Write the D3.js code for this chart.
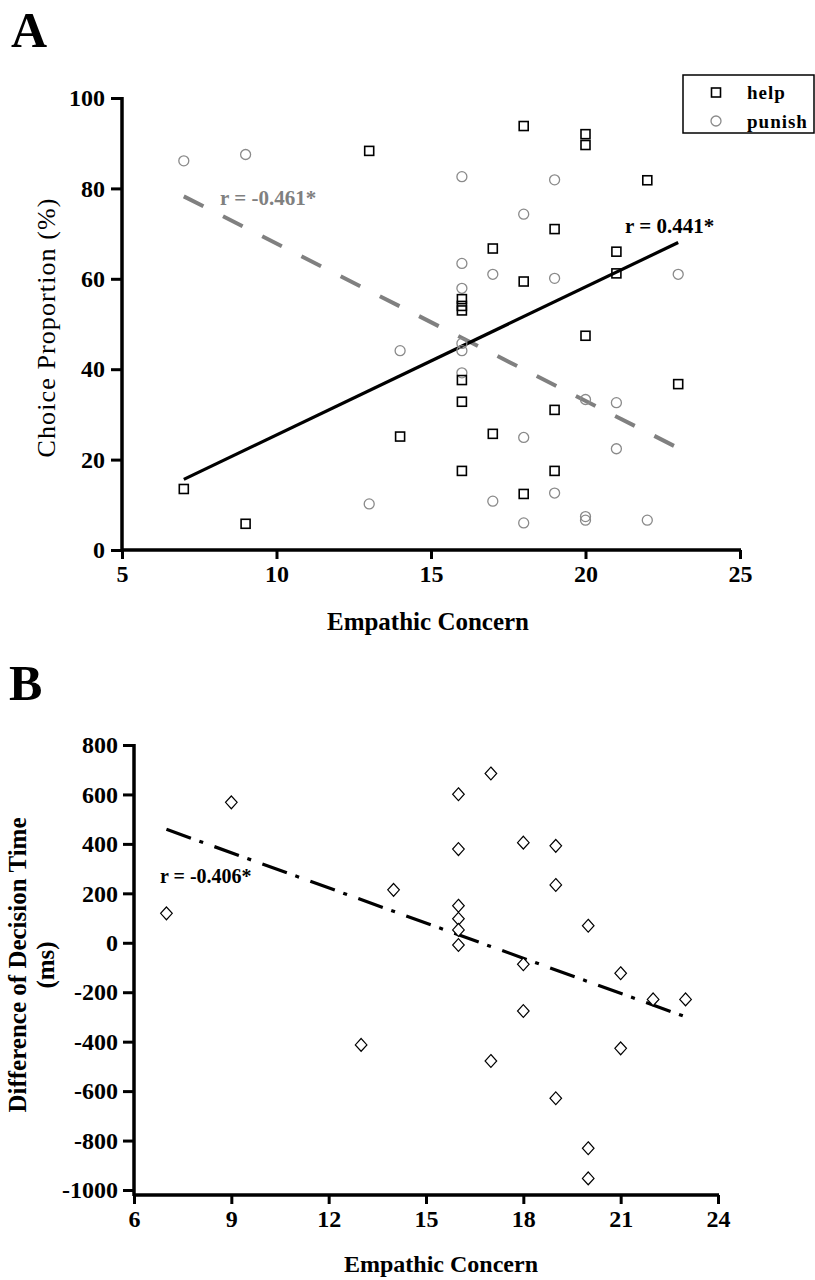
<!DOCTYPE html>
<html>
<head>
  <meta charset="utf-8">
  <style type="text/css">
	body { margin: 0; background: #fff; }
	text { font-family: "Liberation Serif", "Times New Roman", serif; }
	.tick text { font-weight: bold; font-size: 24px; fill: #000; }
	.tick line { stroke: #000; stroke-width: 3; }
	.domain { display: none; }
  </style>
</head>
<body>
<svg width="815" height="1280"></svg>
<script src="https://d3js.org/d3.v7.min.js"></script>
<script>
	// panel A : choice proportion vs empathic concern
	var helpEC    = [7, 9, 13, 14, 16, 16, 16, 16, 16, 16, 17, 17, 18, 18, 18, 19, 19, 19, 20, 20, 20, 21, 21, 22, 23];
	var helpPct   = [13.5, 5.8, 88.3, 25.1, 55.5, 54, 53, 37.6, 32.8, 17.5, 66.7, 25.7, 93.8, 59.4, 12.4, 71.0, 31.0, 17.5, 92.0, 89.6, 47.4, 66.0, 61.2, 81.8, 36.7];
	var punishEC  = [7, 9, 13, 14, 16, 16, 16, 16, 16, 16, 17, 17, 18, 18, 18, 19, 19, 19, 20, 20, 20, 21, 21, 22, 23];
	var punishPct = [86.1, 87.5, 10.2, 44.1, 82.6, 63.4, 57.9, 45.7, 44.1, 39.2, 61.0, 10.8, 74.3, 24.9, 6.0, 81.9, 60.1, 12.6, 33.3, 7.4, 6.6, 32.6, 22.4, 6.6, 61.0];
	var xTicksA = [5, 10, 15, 20, 25];
	var yTicksA = [0, 20, 40, 60, 80, 100];

	// panel B : decision time difference
	var timeEC   = [7, 9, 13, 14, 16, 16, 16, 16, 16, 16, 17, 17, 18, 18, 18, 19, 19, 19, 20, 20, 20, 21, 21, 22, 23];
	var timeDiff = [119, 568, -413, 214, 601, 379, 150, 97, 52, -9, 685, -478, 405, -87, -276, 392, 234, -629, 69, -831, -953, -123, -427, -229, -229];
	var xTicksB = [6, 9, 12, 15, 18, 21, 24];
	var yTicksB = [800, 600, 400, 200, 0, -200, -400, -600, -800, -1000];

	// regression lines [slope, intercept] over the EC range
	var fitRange = [7, 23];
	var helpFit = [3.275, -7.3];
	var punishFit = [-3.48, 102.6];
	var timeFit = [-47.4, 790.8];
	var fitLabels = ["r = 0.441*", "r = -0.461*", "r = -0.406*"];

	var svg = d3.select("svg");
	var plain = function(d) { return String(d); };   // keep hyphen minus like the original

	function fitPoints(fit) {
		return fitRange.map(function(v) { return [v, fit[0] * v + fit[1]]; });
	}

	//---------------- A ----------------
	var xA = d3.scaleLinear().domain([5, 25]).range([122, 740]);
	var yA = d3.scaleLinear().domain([0, 100]).range([550, 98]);

	svg.append("text").attr("x", 11).attr("y", 47)
		.attr("font-size", 50).attr("font-weight", "bold").text("A");

	svg.append("g").attr("transform", "translate(0,550)")
		.call(d3.axisBottom(xA).tickValues(xTicksA).tickFormat(plain).tickSize(9).tickPadding(6));
	svg.append("g").attr("transform", "translate(122,0)")
		.call(d3.axisLeft(yA).tickValues(yTicksA).tickFormat(plain).tickSize(11).tickPadding(6));
	svg.append("line").attr("x1", 122).attr("x2", 122).attr("y1", 97).attr("y2", 551)
		.attr("stroke", "#000").attr("stroke-width", 3.5);
	svg.append("line").attr("x1", 121).attr("x2", 741).attr("y1", 550).attr("y2", 550)
		.attr("stroke", "#000").attr("stroke-width", 3.5);

	svg.append("text")
		.attr("transform", "translate(46," + 328 + ") rotate(-90)")
		.attr("text-anchor", "middle").attr("dy", "0.35em")
		.attr("font-size", 26).attr("textLength", 259).attr("lengthAdjust", "spacing")
		.text("Choice Proportion (%)");
	svg.append("text").attr("x", 428).attr("y", 630)
		.attr("text-anchor", "middle").attr("font-size", 25).attr("font-weight", "bold")
		.text("Empathic Concern");

	var lineA = d3.line().x(function(d) { return xA(d[0]); }).y(function(d) { return yA(d[1]); });

	svg.append("path").attr("d", lineA(fitPoints(punishFit)))
		.attr("fill", "none").attr("stroke", "#808080").attr("stroke-width", 4)
		.attr("stroke-dasharray", "22,22");
	svg.append("path").attr("d", lineA(fitPoints(helpFit)))
		.attr("fill", "none").attr("stroke", "#000").attr("stroke-width", 3.2);

	svg.append("g").selectAll("circle")
		.data(punishEC)
		.enter().append("circle")
			.attr("cx", function(d) { return xA(d); })
			.attr("cy", function(d, i) { return yA(punishPct[i]); })
			.attr("r", 5)
			.attr("fill", "none").attr("stroke", "#8a8a8a").attr("stroke-width", 1.3);

	svg.append("g").selectAll("rect")
		.data(helpEC)
		.enter().append("rect")
			.attr("x", function(d) { return xA(d) - 4.5; })
			.attr("y", function(d, i) { return yA(helpPct[i]) - 4.5; })
			.attr("width", 9).attr("height", 9)
			.attr("fill", "none").attr("stroke", "#000").attr("stroke-width", 1.6);

	svg.append("text").attr("x", 625).attr("y", 233)
		.attr("font-size", 21).attr("font-weight", "bold").text(fitLabels[0]);
	svg.append("text").attr("x", 220).attr("y", 205)
		.attr("font-size", 21).attr("font-weight", "bold").attr("fill", "#808080").text(fitLabels[1]);

	// legend
	var legend = svg.append("g");
	legend.append("rect").attr("x", 683).attr("y", 75).attr("width", 131).attr("height", 58)
		.attr("fill", "#fff").attr("stroke", "#000").attr("stroke-width", 1.5);
	legend.append("rect").attr("x", 711.5).attr("y", 88).attr("width", 9).attr("height", 9)
		.attr("fill", "none").attr("stroke", "#000").attr("stroke-width", 1.6);
	legend.append("circle").attr("cx", 716).attr("cy", 121).attr("r", 5)
		.attr("fill", "none").attr("stroke", "#8a8a8a").attr("stroke-width", 1.3);
	legend.append("text").attr("x", 747).attr("y", 99)
		.attr("font-size", 19).attr("font-weight", "bold").attr("letter-spacing", 1).text("help");
	legend.append("text").attr("x", 747).attr("y", 128)
		.attr("font-size", 19).attr("font-weight", "bold").attr("letter-spacing", 1).text("punish");

	//---------------- B ----------------
	var xB = d3.scaleLinear().domain([6, 24]).range([134, 718]);
	var yB = d3.scaleLinear().domain([-1000, 800]).range([1190, 745]);

	svg.append("text").attr("x", 9).attr("y", 700)
		.attr("font-size", 50).attr("font-weight", "bold").text("B");

	svg.append("g").attr("transform", "translate(0,1195)")
		.call(d3.axisBottom(xB).tickValues(xTicksB).tickFormat(plain).tickSize(9).tickPadding(6));
	svg.append("g").attr("transform", "translate(134,0)")
		.call(d3.axisLeft(yB).tickValues(yTicksB).tickFormat(plain).tickSize(11).tickPadding(5));
	svg.append("line").attr("x1", 134).attr("x2", 134).attr("y1", 744).attr("y2", 1196)
		.attr("stroke", "#000").attr("stroke-width", 3.5);
	svg.append("line").attr("x1", 133).attr("x2", 719).attr("y1", 1195).attr("y2", 1195)
		.attr("stroke", "#000").attr("stroke-width", 3.5);

	svg.append("text")
		.attr("transform", "translate(17,965) rotate(-90)")
		.attr("text-anchor", "middle").attr("dy", "0.35em")
		.attr("font-size", 25).attr("font-weight", "bold")
		.text("Difference of Decision Time");
	svg.append("text")
		.attr("transform", "translate(45,965) rotate(-90)")
		.attr("text-anchor", "middle").attr("dy", "0.35em")
		.attr("font-size", 25).attr("font-weight", "bold")
		.text("(ms)");
	svg.append("text").attr("x", 441).attr("y", 1272)
		.attr("text-anchor", "middle").attr("font-size", 24).attr("font-weight", "bold")
		.text("Empathic Concern");

	var lineB = d3.line().x(function(d) { return xB(d[0]); }).y(function(d) { return yB(d[1]); });
	svg.append("path").attr("d", lineB(fitPoints(timeFit)))
		.attr("fill", "none").attr("stroke", "#000").attr("stroke-width", 3.2)
		.attr("stroke-dasharray", "26,9,4,12");

	var diamond = d3.symbol().type(d3.symbolDiamond2).size(95);
	svg.append("g").selectAll("path.pt")
		.data(timeEC)
		.enter().append("path")
			.attr("class", "pt")
			.attr("d", diamond)
			.attr("transform", function(d, i) { return "translate(" + xB(d) + "," + yB(timeDiff[i]) + ") scale(0.95,1.05)"; })
			.attr("fill", "#fff").attr("stroke", "#000").attr("stroke-width", 1.2);

	svg.append("text").attr("x", 160).attr("y", 883)
		.attr("font-size", 20).attr("font-weight", "bold").text(fitLabels[2]);
</script>
</body>
</html>
